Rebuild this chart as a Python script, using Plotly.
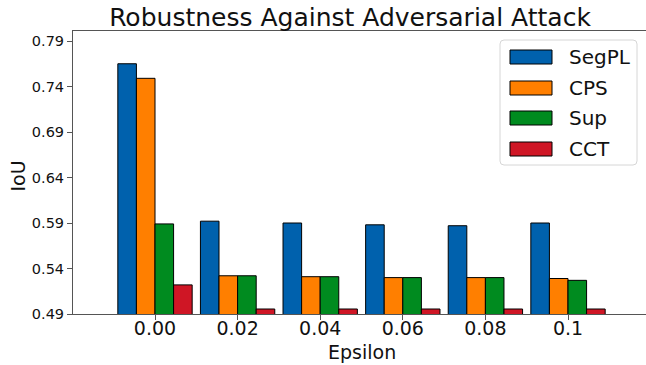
import plotly.graph_objects as go

epsilons = ["0.00", "0.02", "0.04", "0.06", "0.08", "0.1"]
series_names = ["SegPL", "CPS", "Sup", "CCT"]
segpl = [0.765, 0.592, 0.590, 0.588, 0.587, 0.590]
cps = [0.749, 0.532, 0.531, 0.530, 0.530, 0.529]
sup = [0.589, 0.532, 0.531, 0.530, 0.530, 0.527]
cct = [0.522, 0.4955, 0.4955, 0.4955, 0.4955, 0.4955]
y_ticks = [0.49, 0.54, 0.59, 0.64, 0.69, 0.74, 0.79]

colors = ["#0061ad", "#ff7f00", "#008b1f", "#cf1625"]
values = [segpl, cps, sup, cct]
xpos = list(range(len(epsilons)))

FIG_W, FIG_H = 646, 365
PL, PT, PB = 73, 31, 314          # plot area edges in pixels
PR = 646
pw, ph = PR - PL, PB - PT


def px(X):
    return (X - PL) / pw


def py(Y):
    return (PB - Y) / ph


font_family = "DejaVu Sans"
txt_col = "#111"

fig = go.Figure()
for name, vals, col in zip(series_names, values, colors):
    fig.add_trace(go.Bar(
        x=xpos, y=vals, name=name, showlegend=False,
        marker=dict(color=col, line=dict(color="black", width=1)),
    ))

shapes = []
annotations = []

# legend box (rounded)
bx0, bx1, by0, by1 = px(500), px(637), py(165), py(40)
rx, ry = 4 / pw, 4 / ph
path = (f"M {bx0+rx},{by0} L {bx1-rx},{by0} Q {bx1},{by0} {bx1},{by0+ry} "
        f"L {bx1},{by1-ry} Q {bx1},{by1} {bx1-rx},{by1} L {bx0+rx},{by1} "
        f"Q {bx0},{by1} {bx0},{by1-ry} L {bx0},{by0+ry} Q {bx0},{by0} {bx0+rx},{by0} Z")
shapes.append(dict(type="path", xref="paper", yref="paper", path=path,
                   line=dict(color="#d6d6d6", width=1), fillcolor="rgba(255,255,255,0.85)"))
centers = [57, 88, 118, 149]
for name, col, cy in zip(series_names, colors, centers):
    shapes.append(dict(type="rect", xref="paper", yref="paper",
                       x0=px(510), x1=px(552), y0=py(cy + 7), y1=py(cy - 7),
                       fillcolor=col, line=dict(color="black", width=1)))
    annotations.append(dict(text=name, xref="paper", yref="paper", x=px(567), y=py(cy),
                            xanchor="left", yanchor="middle", showarrow=False,
                            font=dict(size=20, family=font_family, color=txt_col)))

# axis titles
annotations.append(dict(text="Epsilon", xref="paper", yref="paper", x=px(362), y=py(352),
                        xanchor="center", yanchor="middle", showarrow=False,
                        font=dict(size=19, family=font_family, color=txt_col)))
annotations.append(dict(text="IoU", xref="paper", yref="paper", x=px(17.5), y=py(176),
                        xanchor="center", yanchor="middle", showarrow=False, textangle=-90,
                        font=dict(size=19, family=font_family, color=txt_col)))

fig.update_layout(
    width=FIG_W, height=FIG_H,
    margin=dict(l=PL, r=0, t=PT, b=FIG_H - PB, autoexpand=False),
    plot_bgcolor="white", paper_bgcolor="white",
    barmode="group", bargap=0.1, bargroupgap=0,
    font=dict(family=font_family, color="black"),
    title=dict(text="Robustness Against Adversarial Attack",
               xref="container", yref="container",
               x=350 / FIG_W, xanchor="center",
               y=1 - 17 / FIG_H, yanchor="middle",
               font=dict(size=25, family=font_family, color=txt_col)),
    shapes=shapes, annotations=annotations, showlegend=False,
)
fig.update_xaxes(
    range=[-(155 - PL) / 82.6, (PR - 155) / 82.6], tickvals=xpos, ticktext=epsilons,
    showline=True, linecolor="#555", linewidth=1, mirror=True,
    ticks="outside", ticklen=5, tickcolor="#555", ticklabelstandoff=-8,
    tickfont=dict(size=19, family=font_family, color=txt_col),
    showgrid=False, zeroline=False, automargin=False,
)
fig.update_yaxes(
    range=[0.49, 0.801], tickvals=y_ticks, ticktext=[f"{v:.2f}" for v in y_ticks],
    showline=True, linecolor="#555", linewidth=1, mirror=False,
    ticks="outside", ticklen=5, tickcolor="#555",
    tickfont=dict(size=14.5, family=font_family, color=txt_col),
    showgrid=False, zeroline=False, automargin=False,
)
fig.write_html("out.html",
               config={"displayModeBar": False, "staticPlot": True},
               post_script="document.body.style.margin='0';document.body.style.overflow='hidden';")
